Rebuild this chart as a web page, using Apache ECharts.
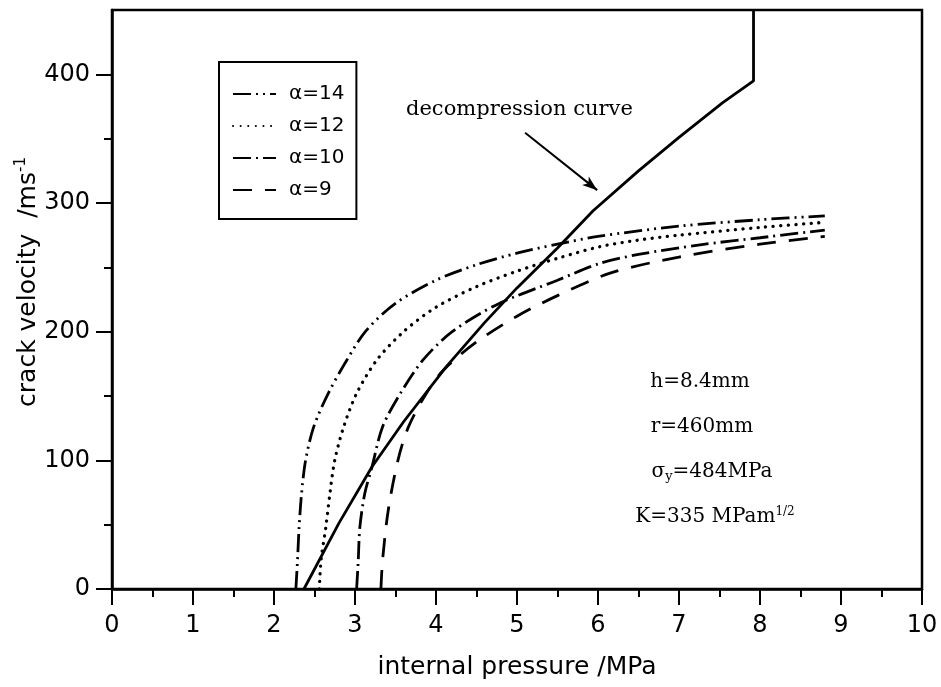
<!DOCTYPE html>
<html><head><meta charset="utf-8">
<script src="https://cdn.jsdelivr.net/npm/echarts@6/dist/echarts.min.js"></script>
<style>html,body{margin:0;padding:0;background:#fff}#c{width:941px;height:687px}</style>
</head><body><div id="c"></div>
<script>
// ---- data ----
const xTickValues = [0,1,2,3,4,5,6,7,8,9,10];
const yTickValues = [0,100,200,300,400];
const yMinorTickValues = [50,150,250,350];
const seriesNames = ['α=14','α=12','α=10','α=9'];

const decompP = [2.37, 2.8, 3.21, 3.6, 4.13, 4.6, 5.0, 5.5, 5.94, 6.5, 7.0, 7.54, 7.92, 7.92];
const decompV = [0, 51, 95, 130, 173, 207, 234, 265, 294, 325, 351, 378, 395, 450];

const a14P = [2.27, 2.29, 2.31, 2.34, 2.39, 2.49, 2.67, 2.90, 3.14, 3.5, 4.0, 4.5, 5.0, 5.5, 6.0, 7.0, 8.0, 8.8];
const a14V = [0, 22, 48, 74, 100, 126, 152, 178, 201, 222, 240, 252, 261, 268, 274, 282, 287, 290];

const a12P = [2.56, 2.58, 2.64, 2.69, 2.75, 2.86, 3.02, 3.27, 3.6, 4.0, 4.5, 5.0, 5.5, 6.02, 6.48, 7.0, 8.0, 8.8];
const a12V = [0, 22, 48, 74, 100, 126, 152, 178, 200, 219, 235, 247, 257, 266, 271, 275, 281, 285];

const a10P = [3.02, 3.04, 3.06, 3.12, 3.21, 3.34, 3.56, 3.84, 4.2, 4.75, 5.5, 6.02, 6.5, 7.26, 8.0, 8.8];
const a10V = [0, 22, 48, 74, 95, 126, 152, 178, 200, 221, 240, 253, 260, 267.5, 273, 279];

const a9P = [3.32, 3.34, 3.41, 3.53, 3.66, 3.88, 4.09, 4.5, 5.0, 5.5, 6.15, 7.0, 8.0, 8.8];
const a9V = [0, 22, 61, 100, 126, 152, 170, 192, 212, 228, 245.5, 258, 268, 274];

const arrowFrom = [5.10, 354.6];
const arrowTo = [5.99, 310];

// ---- build ----
const pairs = (xs, ys) => xs.map((x, i) => [x, ys[i]]);
const sansFont = 'DejaVu Sans';
const serifFont = 'DejaVu Serif';
const LW = 2.8;

const chart = echarts.init(document.getElementById('c'), null, {renderer: 'canvas'});

function curve(name, xs, ys, dash, cap, width) {
  return {
    name: name, type: 'line', data: pairs(xs, ys),
    symbol: 'none', smooth: 0.3,
    lineStyle: {color: '#000', width: width || LW, type: dash, cap: cap || 'butt'},
    itemStyle: {color: '#000'},
    silent: true
  };
}

const option = {
  animation: false,
  backgroundColor: '#fff',
  grid: {left: 112, right: 19, top: 10, bottom: 98, show: true, borderColor: '#000', borderWidth: 2.5, backgroundColor: 'transparent'},
  xAxis: {
    type: 'value', min: 0, max: 10, interval: 1,
    axisLine: {show: true, onZero: false, lineStyle: {color: '#000', width: 2.5}},
    axisTick: {show: true, length: 16, lineStyle: {color: '#000', width: 2}},
    minorTick: {show: true, splitNumber: 2, length: 8, lineStyle: {color: '#000', width: 2}},
    splitLine: {show: false}, minorSplitLine: {show: false},
    axisLabel: {margin: 25, color: '#000', fontFamily: sansFont, fontSize: 24,
      formatter: v => xTickValues.indexOf(v) >= 0 ? String(v) : ''}
  },
  yAxis: [{
    type: 'value', min: 0, max: 450,
    axisLine: {show: true, onZero: false, lineStyle: {color: '#000', width: 2.5}},
    axisTick: {show: true, length: 16, customValues: yTickValues, lineStyle: {color: '#000', width: 2}},
    splitLine: {show: false},
    axisLabel: {margin: 22, color: '#000', fontFamily: sansFont, fontSize: 24, customValues: yTickValues}
  }, {
    type: 'value', min: 0, max: 450, position: 'left', offset: 0,
    axisLine: {show: false},
    axisTick: {show: true, length: 8, customValues: yMinorTickValues, lineStyle: {color: '#000', width: 2}},
    splitLine: {show: false},
    axisLabel: {show: false, customValues: yMinorTickValues}
  }],
  legend: {
    orient: 'vertical', left: 219, top: 62,
    data: seriesNames,
    itemWidth: 43, itemHeight: 14, itemGap: 12,
    padding: [22, 12, 19, 13],
    borderColor: '#000', borderWidth: 2, backgroundColor: '#fff',
    itemStyle: {opacity: 0},
    textStyle: {color: '#000', fontFamily: sansFont, fontSize: 20, padding: [0, 0, 0, 8]},
    selectedMode: false
  },
  series: [
    {
      name: 'decompression curve', type: 'line', data: pairs(decompP, decompV),
      symbol: 'none', smooth: false,
      lineStyle: {color: '#000', width: LW},
      silent: true,
      markLine: {
        silent: true, symbol: ['none', 'arrow'], symbolSize: [8, 15],
        label: {show: false},
        lineStyle: {color: '#000', width: 2, type: 'solid'},
        data: [[{coord: arrowFrom}, {coord: arrowTo}]]
      }
    },
    curve('α=14', a14P, a14V, [18, 5, 2, 5, 2, 5]),
    curve('α=12', a12P, a12V, [0.1, 7.5], 'round', 3.3),
    curve('α=10', a10P, a10V, [18, 5, 2, 5]),
    curve('α=9', a9P, a9V, [19, 13])
  ],
  graphic: [
    {type: 'text', left: 406, top: 99, style: {text: 'decompression curve', fill: '#000', font: '21px "DejaVu Serif"'}},
    {type: 'text', x: 28, y: 282, rotation: Math.PI / 2,
      style: {text: 'crack velocity  /ms{sup|-1}', fill: '#000', font: '25px "DejaVu Sans"', align: 'center', verticalAlign: 'middle',
        rich: {sup: {fontSize: 15, fontFamily: sansFont, verticalAlign: 'top', padding: [0, 0, 13, 0]}}}},
    {type: 'text', x: 517, y: 667,
      style: {text: 'internal pressure /MPa', fill: '#000', font: '25px "DejaVu Sans"', align: 'center', verticalAlign: 'middle'}},
    {type: 'text', x: 700, y: 382, style: {text: 'h=8.4mm', fill: '#000', font: '20px "DejaVu Serif"', align: 'center', verticalAlign: 'middle'}},
    {type: 'text', x: 702, y: 427, style: {text: 'r=460mm', fill: '#000', font: '20px "DejaVu Serif"', align: 'center', verticalAlign: 'middle'}},
    {type: 'text', x: 712, y: 472, style: {text: 'σ{sub|y}=484MPa', fill: '#000', font: '20px "DejaVu Serif"', align: 'center', verticalAlign: 'middle',
      rich: {sub: {fontSize: 13, fontFamily: serifFont, padding: [9, 0, 0, 0]}}}},
    {type: 'text', x: 715, y: 517, style: {text: 'K=335 MPam{sup|1/2}', fill: '#000', font: '20px "DejaVu Serif"', align: 'center', verticalAlign: 'middle',
      rich: {sup: {fontSize: 12, fontFamily: serifFont, padding: [0, 0, 11, 0]}}}}
  ]
};
chart.setOption(option);
</script>
</body></html>
